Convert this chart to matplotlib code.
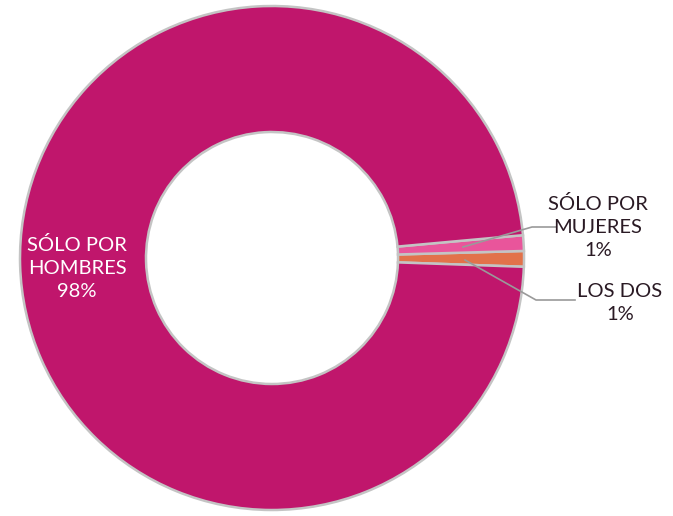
import matplotlib
matplotlib.use('Agg')
import matplotlib.pyplot as plt

labels = ['LOS DOS', 'SÓLO POR\nMUJERES', 'SÓLO POR\nHOMBRES']
values = [1, 1, 98]
colors = ['#E2724A', '#E9559B', '#C0166C']

W, H = 673, 516
fig = plt.figure(figsize=(W / 100, H / 100), dpi=100)
ax = fig.add_axes([0, 0, 1, 1])

cx, cy, r = 272, H - 258, 252
wedges, _ = ax.pie(values, colors=colors, startangle=-2.0, counterclock=True,
                   radius=r, center=(cx, cy), explode=[0.025, 0.025, 0],
                   wedgeprops=dict(width=r * 0.5, edgecolor='#c4c4c4', linewidth=1.8),
                   frame=True)
ax.set_xlim(0, W)
ax.set_ylim(0, H)
ax.set_aspect('equal')
ax.axis('off')

font = 'Lato'
fs = 14.5
ax.text(77, H - 268, 'SÓLO POR\nHOMBRES\n98%', color='white', ha='center', va='center',
        fontsize=fs, family=font, linespacing=1.45)
ax.text(598, H - 227, 'SÓLO POR\nMUJERES\n1%', color='#2a1a24', ha='center', va='center',
        fontsize=fs, family=font, linespacing=1.45)
ax.text(620, H - 303, 'LOS DOS\n1%', color='#2a1a24', ha='center', va='center',
        fontsize=fs, family=font, linespacing=1.45)

# leader lines
ax.plot([463, 532, 556], [H - 247, H - 227, H - 227], color='#9a9a9a', lw=1.2)
ax.plot([465, 536, 575], [H - 260, H - 300, H - 300], color='#9a9a9a', lw=1.2)

fig.savefig('out.png', dpi=100)
